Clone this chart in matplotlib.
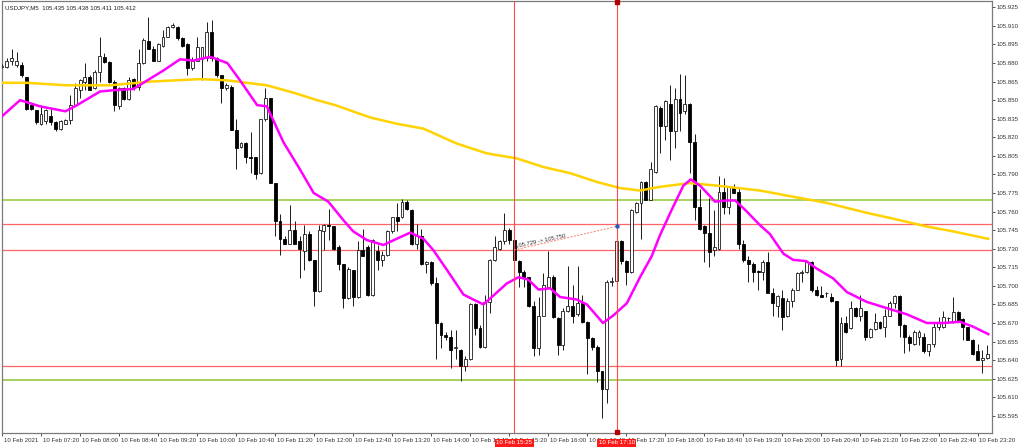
import matplotlib
matplotlib.use('Agg')
import matplotlib.pyplot as plt
import matplotlib.transforms as mtransforms
import numpy as np

plt.rcParams['font.family'] = ['Liberation Sans', 'DejaVu Sans']

header_text = 'USDJPY,M5  105.435 105.438 105.411 105.412'

# OHLC of the 5 minute bars, 10 Feb 06:40 .. 23:50
opens = [
    105.877, 105.877, 105.882, 105.878, 105.878, 105.869, 105.846, 105.842, 105.831, 105.833,
    105.837, 105.832, 105.827, 105.831, 105.834, 105.846, 105.858, 105.865, 105.869, 105.860,
    105.873, 105.885, 105.881, 105.865, 105.845, 105.860, 105.851, 105.867, 105.861, 105.880,
    105.898, 105.891, 105.882, 105.894, 105.901, 105.909, 105.909, 105.900, 105.895, 105.876,
    105.882, 105.883, 105.884, 105.905, 105.884, 105.870, 105.860, 105.861, 105.826, 105.812,
    105.815, 105.804, 105.804, 105.791, 105.835, 105.852, 105.783, 105.752, 105.738, 105.734,
    105.745, 105.736, 105.728, 105.742, 105.721, 105.696, 105.744, 105.749, 105.748, 105.731,
    105.718, 105.690, 105.713, 105.691, 105.729, 105.731, 105.693, 105.728, 105.721, 105.725,
    105.744, 105.756, 105.756, 105.768, 105.761, 105.734, 105.740, 105.718, 105.719, 105.702,
    105.670, 105.660, 105.659, 105.650, 105.648, 105.635, 105.641, 105.685, 105.666, 105.651,
    105.687, 105.721, 105.730, 105.736, 105.745, 105.737, 105.720, 105.711, 105.707, 105.684,
    105.650, 105.676, 105.699, 105.707, 105.674, 105.652, 105.680, 105.684, 105.677, 105.686,
    105.671, 105.658, 105.651, 105.631, 105.617, 105.703, 105.704, 105.736, 105.720, 105.711,
    105.760, 105.767, 105.784, 105.769, 105.792, 105.844, 105.829, 105.847, 105.825, 105.851,
    105.841, 105.847, 105.816, 105.764, 105.748, 105.743, 105.729, 105.730, 105.776, 105.764,
    105.780, 105.776, 105.734, 105.721, 105.718, 105.712, 105.711, 105.719, 105.694, 105.684,
    105.690, 105.676, 105.688, 105.697, 105.710, 105.711, 105.719, 105.697, 105.693, 105.694,
    105.691, 105.688, 105.641, 105.670, 105.666, 105.682, 105.676, 105.680, 105.659, 105.665,
    105.671, 105.667, 105.676, 105.686, 105.692, 105.668, 105.659, 105.653, 105.659, 105.659,
    105.647, 105.653, 105.667, 105.667, 105.674, 105.672, 105.679, 105.673, 105.667, 105.656,
    105.647, 105.640, 105.642,
]
highs = [
    105.879, 105.884, 105.891, 105.889, 105.881, 105.869, 105.847, 105.842, 105.846, 105.843,
    105.843, 105.833, 105.834, 105.835, 105.854, 105.864, 105.867, 105.880, 105.870, 105.874,
    105.901, 105.888, 105.882, 105.866, 105.861, 105.861, 105.869, 105.868, 105.891, 105.900,
    105.917, 105.894, 105.896, 105.907, 105.910, 105.912, 105.910, 105.901, 105.896, 105.885,
    105.901, 105.893, 105.913, 105.915, 105.885, 105.870, 105.864, 105.862, 105.835, 105.816,
    105.816, 105.824, 105.804, 105.835, 105.860, 105.852, 105.783, 105.758, 105.740, 105.765,
    105.752, 105.740, 105.749, 105.744, 105.721, 105.749, 105.750, 105.762, 105.748, 105.733,
    105.718, 105.715, 105.713, 105.736, 105.746, 105.733, 105.738, 105.733, 105.728, 105.745,
    105.756, 105.767, 105.770, 105.769, 105.762, 105.750, 105.746, 105.720, 105.720, 105.707,
    105.671, 105.663, 105.664, 105.664, 105.649, 105.643, 105.686, 105.686, 105.668, 105.693,
    105.722, 105.740, 105.737, 105.759, 105.747, 105.738, 105.721, 105.713, 105.707, 105.688,
    105.691, 105.710, 105.728, 105.709, 105.675, 105.682, 105.716, 105.701, 105.716, 105.693,
    105.672, 105.659, 105.652, 105.631, 105.705, 105.707, 105.738, 105.737, 105.721, 105.762,
    105.768, 105.785, 105.785, 105.800, 105.846, 105.845, 105.850, 105.862, 105.860, 105.871,
    105.870, 105.848, 105.823, 105.778, 105.749, 105.771, 105.761, 105.789, 105.787, 105.781,
    105.782, 105.780, 105.737, 105.724, 105.719, 105.713, 105.721, 105.727, 105.698, 105.693,
    105.697, 105.690, 105.698, 105.711, 105.713, 105.720, 105.720, 105.700, 105.700, 105.695,
    105.694, 105.688, 105.675, 105.676, 105.688, 105.683, 105.693, 105.680, 105.666, 105.678,
    105.672, 105.681, 105.688, 105.693, 105.693, 105.669, 105.660, 105.664, 105.664, 105.662,
    105.653, 105.670, 105.675, 105.680, 105.675, 105.691, 105.680, 105.674, 105.667, 105.657,
    105.653, 105.648, 105.652,
]
lows = [
    105.876, 105.876, 105.878, 105.877, 105.869, 105.842, 105.842, 105.831, 105.830, 105.831,
    105.830, 105.825, 105.826, 105.831, 105.831, 105.845, 105.852, 105.858, 105.858, 105.859,
    105.865, 105.880, 105.864, 105.841, 105.843, 105.850, 105.850, 105.858, 105.858, 105.879,
    105.891, 105.882, 105.882, 105.893, 105.901, 105.908, 105.899, 105.893, 105.870, 105.874,
    105.882, 105.866, 105.882, 105.882, 105.869, 105.848, 105.858, 105.826, 105.794, 105.811,
    105.799, 105.791, 105.786, 105.790, 105.833, 105.783, 105.740, 105.725, 105.734, 105.734,
    105.734, 105.706, 105.713, 105.720, 105.684, 105.695, 105.729, 105.737, 105.729, 105.713,
    105.682, 105.689, 105.684, 105.690, 105.724, 105.692, 105.692, 105.713, 105.716, 105.724,
    105.743, 105.744, 105.755, 105.761, 105.733, 105.730, 105.717, 105.710, 105.701, 105.641,
    105.650, 105.656, 105.634, 105.641, 105.623, 105.631, 105.640, 105.660, 105.650, 105.650,
    105.678, 105.720, 105.729, 105.734, 105.734, 105.717, 105.699, 105.699, 105.683, 105.643,
    105.644, 105.676, 105.698, 105.674, 105.644, 105.648, 105.679, 105.670, 105.676, 105.670,
    105.629, 105.648, 105.622, 105.593, 105.605, 105.700, 105.702, 105.718, 105.701, 105.710,
    105.759, 105.738, 105.769, 105.769, 105.791, 105.807, 105.818, 105.802, 105.811, 105.825,
    105.839, 105.791, 105.753, 105.745, 105.719, 105.715, 105.724, 105.729, 105.758, 105.758,
    105.775, 105.730, 105.719, 105.703, 105.703, 105.697, 105.705, 105.694, 105.676, 105.675,
    105.664, 105.675, 105.683, 105.697, 105.703, 105.710, 105.695, 105.692, 105.691, 105.691,
    105.687, 105.635, 105.635, 105.662, 105.665, 105.675, 105.672, 105.656, 105.658, 105.664,
    105.665, 105.659, 105.676, 105.682, 105.659, 105.646, 105.647, 105.652, 105.652, 105.646,
    105.643, 105.651, 105.664, 105.666, 105.671, 105.670, 105.672, 105.656, 105.656, 105.644,
    105.640, 105.630, 105.641,
]
closes = [
    105.877, 105.882, 105.884, 105.882, 105.870, 105.843, 105.843, 105.832, 105.839, 105.842,
    105.832, 105.827, 105.833, 105.834, 105.846, 105.860, 105.866, 105.869, 105.858, 105.873,
    105.886, 105.881, 105.865, 105.846, 105.860, 105.851, 105.866, 105.861, 105.880, 105.899,
    105.891, 105.882, 105.895, 105.901, 105.909, 105.911, 105.900, 105.894, 105.876, 105.882,
    105.893, 105.893, 105.905, 105.884, 105.870, 105.860, 105.862, 105.826, 105.811, 105.815,
    105.804, 105.803, 105.790, 105.835, 105.852, 105.783, 105.752, 105.738, 105.734, 105.745,
    105.734, 105.730, 105.742, 105.721, 105.696, 105.745, 105.749, 105.748, 105.730, 105.718,
    105.690, 105.714, 105.691, 105.729, 105.724, 105.693, 105.737, 105.721, 105.725, 105.744,
    105.756, 105.752, 105.768, 105.762, 105.734, 105.740, 105.718, 105.719, 105.702, 105.670,
    105.660, 105.659, 105.648, 105.650, 105.635, 105.641, 105.685, 105.666, 105.651, 105.687,
    105.721, 105.731, 105.736, 105.745, 105.737, 105.721, 105.711, 105.707, 105.684, 105.650,
    105.676, 105.701, 105.707, 105.675, 105.652, 105.680, 105.684, 105.676, 105.686, 105.671,
    105.658, 105.651, 105.631, 105.617, 105.703, 105.704, 105.736, 105.720, 105.711, 105.761,
    105.767, 105.784, 105.769, 105.794, 105.845, 105.829, 105.849, 105.825, 105.851, 105.840,
    105.847, 105.816, 105.764, 105.746, 105.743, 105.727, 105.731, 105.776, 105.764, 105.780,
    105.775, 105.734, 105.721, 105.718, 105.711, 105.711, 105.719, 105.694, 105.686, 105.692,
    105.675, 105.688, 105.697, 105.710, 105.711, 105.719, 105.697, 105.693, 105.691, 105.694,
    105.688, 105.640, 105.670, 105.663, 105.682, 105.676, 105.682, 105.659, 105.665, 105.671,
    105.666, 105.676, 105.686, 105.692, 105.668, 105.659, 105.654, 105.663, 105.663, 105.647,
    105.653, 105.667, 105.671, 105.675, 105.674, 105.679, 105.672, 105.667, 105.656, 105.645,
    105.640, 105.642, 105.645,
]

# moving averages (bar index, price)
fast_ma_bars = [0, 3.7, 7.8, 13.0, 15.4, 20.1, 22.8, 26.9, 29.8, 33.1, 36.5, 39.2, 42.7, 46.2,
                48.8, 52.3, 54.3, 57.7, 61.1, 63.9, 66.9, 70.0, 72.0, 74.8, 78.2, 80.9, 83.7,
                86.4, 88.4, 91.2, 94.6, 96.6, 98.7, 100.7, 103.5, 105.9, 107.9, 110.0, 112.4,
                114.4, 117.8, 119.9, 121.9, 123.2, 125.3, 128.1, 130.8, 133.2, 134.9, 137.6,
                139.7, 141.2, 143.1, 146.2, 148.6, 150.3, 152.7, 155.4, 157.4, 160.2, 162.2,
                164.9, 167.0, 170.4, 173.2, 177.3, 181.4, 185.5, 189.6, 193.0, 196.4, 199.1, 202.2]
fast_ma_vals = [105.837, 105.850, 105.845, 105.841, 105.846, 105.857, 105.858, 105.859, 105.866,
                105.874, 105.883, 105.882, 105.885, 105.880, 105.866, 105.846, 105.845, 105.816,
                105.794, 105.775, 105.768, 105.753, 105.744, 105.737, 105.733, 105.738, 105.743,
                105.738, 105.729, 105.713, 105.693, 105.689, 105.685, 105.692, 105.702, 105.707,
                105.705, 105.697, 105.698, 105.691, 105.689, 105.685, 105.676, 105.670, 105.676,
                105.686, 105.707, 105.724, 105.741, 105.764, 105.781, 105.786, 105.781, 105.768,
                105.769, 105.769, 105.760, 105.749, 105.742, 105.726, 105.721, 105.720, 105.714,
                105.706, 105.695, 105.687, 105.682, 105.677, 105.670, 105.670, 105.671, 105.667,
                105.661]
slow_ma_bars = [0, 5.1, 13.3, 22.2, 30.4, 40.6, 46.1, 54.3, 59.8, 64.6, 68.3, 75.5, 80.9, 86.4,
                93.2, 99.4, 105.5, 111.0, 116.5, 121.9, 126.7, 130.8, 134.9, 141.0, 146.5, 155.4,
                162.2, 169.1, 177.3, 184.1, 189.5, 195.0, 202.2]
slow_ma_vals = [105.864, 105.864, 105.862, 105.862, 105.865, 105.867, 105.866, 105.862, 105.856,
                105.850, 105.846, 105.836, 105.831, 105.827, 105.815, 105.807, 105.803, 105.796,
                105.791, 105.784, 105.779, 105.777, 105.780, 105.783, 105.781, 105.777, 105.772,
                105.767, 105.759, 105.753, 105.748, 105.744, 105.738]

green_levels = [105.769, 105.624]
red_levels = [105.750, 105.729, 105.635]
vline_bars = [105, 126]
vline_labels = ['10 Feb 15:25', '10 Feb 17:10']
trend_bars = [105, 126]
trend_prices = [105.729, 105.748]
trend_text = '105.729 -> 105.750'

price_ticks = [105.925, 105.910, 105.895, 105.880, 105.865, 105.850, 105.835, 105.820,
               105.805, 105.790, 105.775, 105.760, 105.745, 105.730, 105.715, 105.700,
               105.685, 105.670, 105.655, 105.640, 105.625, 105.610, 105.595]
time_tick_bars = list(range(0, 201, 8))
time_tick_labels = ['10 Feb 2021', '10 Feb 07:20', '10 Feb 08:00', '10 Feb 08:40',
                    '10 Feb 09:20', '10 Feb 10:00', '10 Feb 10:40', '10 Feb 11:20',
                    '10 Feb 12:00', '10 Feb 12:40', '10 Feb 13:20', '10 Feb 14:00',
                    '10 Feb 14:40', '10 Feb 15:20', '10 Feb 16:00', '10 Feb 16:40',
                    '10 Feb 17:20', '10 Feb 18:00', '10 Feb 18:40', '10 Feb 19:20',
                    '10 Feb 20:00', '10 Feb 20:40', '10 Feb 21:20', '10 Feb 22:00',
                    '10 Feb 22:40', '10 Feb 23:20']

FS = 4.4


def draw_candles(ax):
    idx = np.arange(len(opens))
    o = np.array(opens)
    c = np.array(closes)
    ax.vlines(idx, lows, highs, color='#1a1a1a', lw=0.7, zorder=3)
    up = c >= o
    bottom = np.minimum(o, c)
    height = np.maximum(np.abs(c - o), 0.0004)
    ax.bar(idx[up], height[up], bottom=bottom[up], width=0.6,
           facecolor='white', edgecolor='#1a1a1a', lw=0.6, zorder=4)
    ax.bar(idx[~up], height[~up], bottom=bottom[~up], width=0.6,
           facecolor='black', edgecolor='black', lw=0.6, zorder=4)


def main():
    fig = plt.figure(figsize=(10.24, 4.47), dpi=100)
    ax = fig.add_axes([2 / 1024, 13.7 / 447, 989.7 / 1024, 432.3 / 447])

    for lvl in green_levels:
        ax.axhline(lvl, color='#a6d25e', lw=1.4, zorder=2)
    for lvl in red_levels:
        ax.axhline(lvl, color='#ff6464', lw=0.9, zorder=2)

    draw_candles(ax)

    ax.plot(slow_ma_bars, slow_ma_vals, color='#ffd200', lw=1.8, zorder=5)
    ax.plot(fast_ma_bars, fast_ma_vals, color='#ff00ff', lw=1.8, zorder=5)

    for b in vline_bars:
        ax.axvline(b, color='#ff4a4a', lw=0.8, zorder=6)

    # trend line with its label
    ax.plot(trend_bars, trend_prices, color='#ff7a6a', lw=0.7, ls=(0, (2, 1.5)), zorder=6)
    ax.plot(trend_bars[1], trend_prices[1], 'o', color='#2060c0', ms=2.2, zorder=7)
    ax.text(trend_bars[0] + 0.4, trend_prices[0] + 0.0007, trend_text, fontsize=FS - 0.2,
            color='#333333', rotation=12, rotation_mode='anchor', ha='left', va='bottom', zorder=7)

    ax.set_xlim(0.06, 202.9)
    ax.set_ylim(105.5809, 105.9301)

    ax.yaxis.tick_right()
    ax.set_yticks(price_ticks)
    ax.set_yticklabels(['%.3f' % p for p in price_ticks])
    ax.set_xticks(time_tick_bars)
    ax.set_xticklabels(time_tick_labels, ha='left')
    ax.tick_params(axis='both', labelsize=FS, colors='#333333', length=2.2, width=0.6, pad=1.2)
    offset = mtransforms.ScaledTranslation(1.5 / 100, 0, fig.dpi_scale_trans)
    for lab in ax.get_xticklabels():
        lab.set_transform(lab.get_transform() + offset)

    for s in ax.spines.values():
        s.set_color('#7a7a7a')
        s.set_linewidth(0.9)

    # date boxes of the vertical lines on the time scale
    trans = mtransforms.blended_transform_factory(ax.transData, ax.transAxes)
    for b, lab in zip(vline_bars, vline_labels):
        ax.text(b, -0.016, lab, transform=trans, fontsize=FS, color='white', ha='center',
                va='top', clip_on=False, zorder=8,
                bbox=dict(boxstyle='square,pad=0.25', facecolor='#ff1a1a', edgecolor='none'))
    ax.plot([vline_bars[1], vline_bars[1]], [0.003, 0.997], 's', color='#b00000', ms=2.2,
            transform=trans, clip_on=False, zorder=9)

    ax.text(0.003, 0.985, header_text, transform=ax.transAxes, fontsize=FS, color='#222222',
            ha='left', va='center')

    fig.savefig('out.png', dpi=100, facecolor='white')


if __name__ == '__main__':
    main()
